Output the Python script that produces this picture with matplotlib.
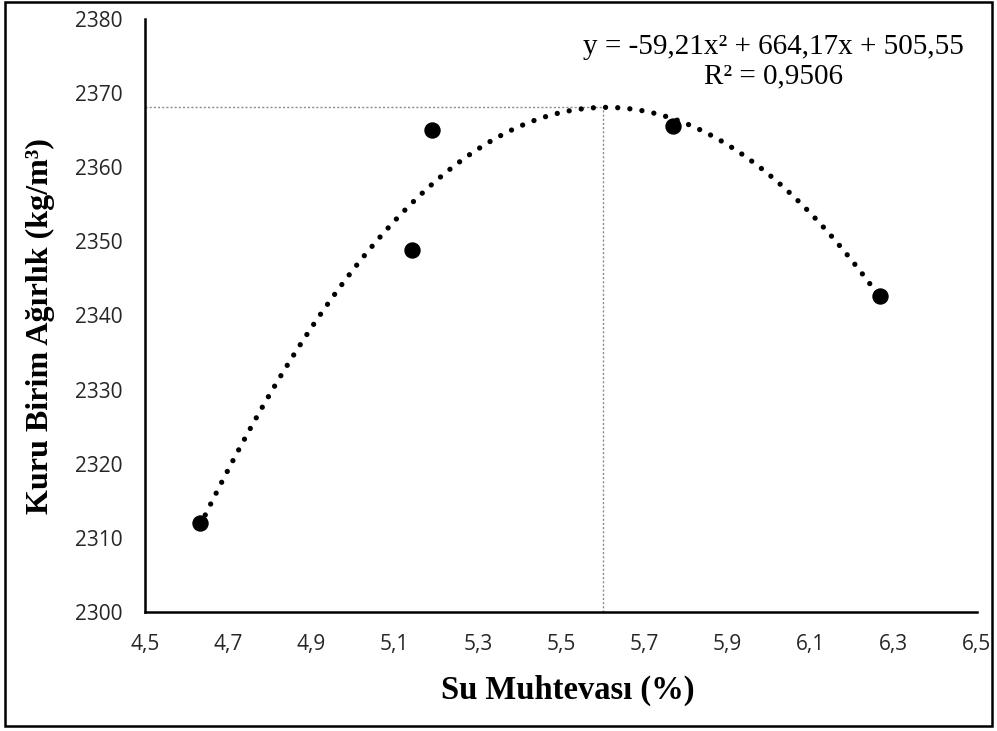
import numpy as np
import matplotlib.pyplot as plt
from matplotlib.patches import Rectangle

# measured points
su = [4.632, 5.141, 5.189, 5.770, 6.267]
kuru = [2312.05, 2348.85, 2365.05, 2365.6, 2342.65]

# trendline coefficients as printed on the chart
coef = [-59.21, 664.17, 505.55]
x_opt = 5.6
y_max = 2368.1

xticks = [4.5, 4.7, 4.9, 5.1, 5.3, 5.5, 5.7, 5.9, 6.1, 6.3, 6.5]
yticks = [2300, 2310, 2320, 2330, 2340, 2350, 2360, 2370, 2380]

fig = plt.figure(figsize=(9.97, 7.31), dpi=100)
ax = fig.add_axes([0.1454, 0.1628, 0.8345, 0.8112])

ax.set_xlim(4.5, 6.5)
ax.set_ylim(2300, 2380)

# gray guide lines at optimum
ax.plot([4.5, x_opt], [y_max, y_max], color='#8c8c8c', lw=1.0, ls=(0, (1.5, 1.5)))
ax.plot([x_opt, x_opt], [2300, y_max], color='#8c8c8c', lw=1.0, ls=(0, (1.5, 1.5)))

xs = np.linspace(min(su), max(su), 400)
ax.plot(xs, np.polyval(coef, xs), color='black', lw=3.8,
        ls=(0, (0.01, 2.3)), dash_capstyle='round')

ax.plot(su, kuru, 'o', color='black', ms=10.8)

ax.set_xticks(xticks)
ax.set_xticklabels([f'{t:.1f}'.replace('.', ',') for t in xticks])
ax.set_yticks(yticks)
for lab in ax.get_xticklabels() + ax.get_yticklabels():
    lab.set_fontfamily('Open Sans')
    lab.set_fontsize(15)
    lab.set_color('#262626')
ax.tick_params(length=0, pad=16)

for s in ['top', 'right']:
    ax.spines[s].set_visible(False)
for s in ['left', 'bottom']:
    ax.spines[s].set_linewidth(1.8)

ax.set_xlabel('Su Muhtevası (%)', family='Liberation Serif', weight='bold', fontsize=23.5)
ax.set_ylabel('Kuru Birim Ağırlık (kg/m³)', family='Liberation Serif', weight='bold', fontsize=23)
ax.xaxis.set_label_coords(0.508, -0.106)
ax.yaxis.set_label_coords(-0.108, 0.482)

fig.text(0.776, 0.916, 'y = -59,21x² + 664,17x + 505,55\nR² = 0,9506', ha='center', va='center',
         family='Liberation Serif', fontsize=21, linespacing=1.18)

fig.patches.append(Rectangle((0.005, 0.007), 0.99, 0.99, transform=fig.transFigure,
                             fill=False, edgecolor='black', lw=1.8))

fig.savefig('out.png', dpi=100)
